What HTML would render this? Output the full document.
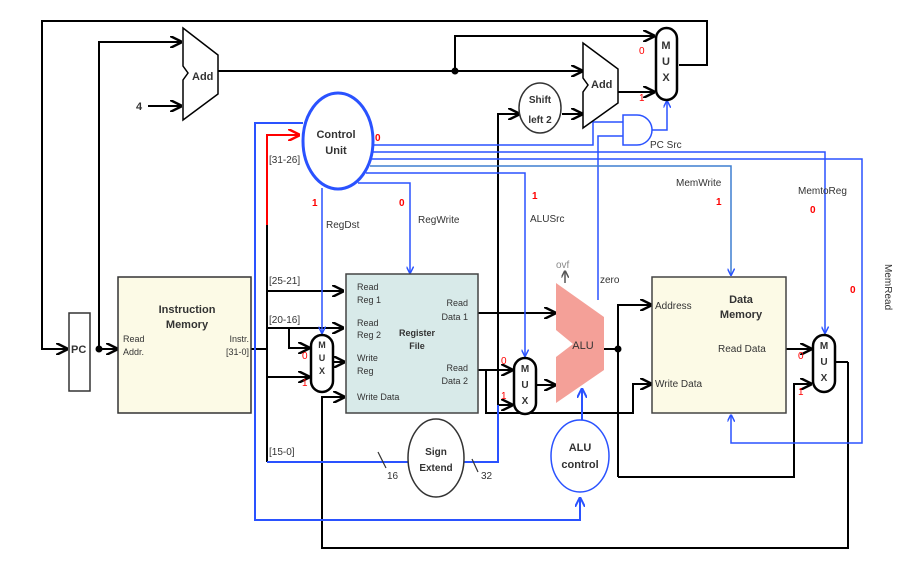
<!DOCTYPE html>
<html><head><meta charset="utf-8"><style>
html,body{margin:0;padding:0;background:#fff;}
svg{display:block;font-family:"Liberation Sans",sans-serif;}
.t{font-size:10px;fill:#333;}
.b{font-size:11px;font-weight:bold;fill:#333;}
.r{font-size:10px;fill:#f00;font-weight:bold;}
</style></head><body>
<svg width="921" height="586" viewBox="0 0 921 586" xmlns="http://www.w3.org/2000/svg">
<defs>
<marker id="ak" viewBox="0 0 10 10" refX="9" refY="5" markerWidth="6" markerHeight="6" orient="auto"><path d="M0,0 L10,5 L0,10" fill="none" stroke="#000" stroke-width="2"/></marker>
<marker id="ab" viewBox="0 0 10 10" refX="9" refY="5" markerWidth="5" markerHeight="5" orient="auto"><path d="M0,0 L10,5 L0,10" fill="none" stroke="#2a52ff" stroke-width="2"/></marker>
<marker id="ar" viewBox="0 0 10 10" refX="9" refY="5" markerWidth="6" markerHeight="6" orient="auto"><path d="M0,0 L10,5 L0,10" fill="none" stroke="#f00" stroke-width="2"/></marker>
<marker id="ag" viewBox="0 0 10 10" refX="9" refY="5" markerWidth="5" markerHeight="5" orient="auto"><path d="M0,0 L10,5 L0,10" fill="none" stroke="#555" stroke-width="2"/></marker>
</defs>
<g fill="none" stroke="#000" stroke-width="2">
<polyline points="679,65 707,65 707,21 42,21 42,349 67,349" marker-end="url(#ak)"/>
<polyline points="99,349 117,349" marker-end="url(#ak)"/>
<polyline points="99,349 99,42 181,42" marker-end="url(#ak)"/>
<polyline points="148,106 181,106" marker-end="url(#ak)"/>
<polyline points="218,71 582,71" marker-end="url(#ak)"/>
<polyline points="455,71 455,36 654,36" marker-end="url(#ak)"/>
<polyline points="618,92 654,92" marker-end="url(#ak)"/>
<polyline points="562,114 582,114" marker-end="url(#ak)"/>
<polyline points="498,405 498,114 519,114" marker-end="url(#ak)"/>
<polyline points="498,405 512,405" marker-end="url(#ak)"/>
<polyline points="251,349 267,349"/>
<polyline points="267,225 267,462"/>
<polyline points="267,291 343,291" marker-end="url(#ak)"/>
<polyline points="267,328 343,328" marker-end="url(#ak)"/>
<polyline points="289,328 289,348 309,348" marker-end="url(#ak)"/>
<polyline points="267,377 309,377" marker-end="url(#ak)"/>
<polyline points="333,362 344,362" marker-end="url(#ak)"/>
<polyline points="848,362 848,548 322,548 322,397 344,397" marker-end="url(#ak)"/>
<polyline points="478,313 555,313" marker-end="url(#ak)"/>
<polyline points="478,370 512,370" marker-end="url(#ak)"/>
<polyline points="486,370 486,413 633,413 633,384 651,384" marker-end="url(#ak)"/>
<polyline points="536,385 555,385" marker-end="url(#ak)"/>
<polyline points="604,349 618,349"/>
<polyline points="618,477 618,305 651,305" marker-end="url(#ak)"/>
<polyline points="618,477 794,477 794,384 811,384" marker-end="url(#ak)"/>
<polyline points="786,349 811,349" marker-end="url(#ak)"/>
<polyline points="835,362 848,362"/>
</g>
<circle cx="99" cy="349" r="3.5"/><circle cx="455" cy="71" r="3.5"/><circle cx="618" cy="349" r="3.5"/>
<g fill="none" stroke="#2a52ff" stroke-width="2">
<polyline points="303,123 255,123 255,520 580,520 580,498" marker-end="url(#ab)"/>
<polyline points="267,462 408,462"/>
<polyline points="464,462 498,462 498,405"/>
<polyline points="582,420 582,389" marker-end="url(#ab)"/>
</g>
<g fill="none" stroke="#2a52ff" stroke-width="1.5">
<polyline points="372,145 593,145 593,122 623,122"/>
<polyline points="598,300 598,136 623,136"/>
<polyline points="652,130 667,130 667,101" marker-end="url(#ab)"/>
<polyline points="373,152 825,152 825,333" marker-end="url(#ab)"/>
<polyline points="372,159 862,159 862,443 731,443 731,415" marker-end="url(#ab)"/>
<polyline points="370,166 731,166 731,275" stroke="#3f7fd0" marker-end="url(#ab)"/>
<polyline points="366,173 525,173 525,356" marker-end="url(#ab)"/>
<polyline points="358,183 410,183 410,273" marker-end="url(#ab)"/>
<polyline points="322,188 322,333" marker-end="url(#ab)"/>
</g>
<polyline points="267,225 267,135 299,135" fill="none" stroke="#f00" stroke-width="2" marker-end="url(#ar)"/>
<rect x="69" y="313" width="21" height="78" fill="#fff" stroke="#333" stroke-width="1.5"/>
<text x="71" y="353" class="b">PC</text>
<polygon points="183,28 218,55 218,94 183,120 183,80 188,73 183,66" fill="#fff" stroke="#000" stroke-width="1.5"/>
<text x="192" y="80" class="b">Add</text>
<text x="136" y="110" class="b">4</text>
<polygon points="583,43 618,69 618,103 583,128 583,92 588,85 583,78" fill="#fff" stroke="#000" stroke-width="1.5"/>
<text x="591" y="88" class="b">Add</text>
<rect x="656" y="28" width="21" height="72" rx="10.5" fill="#fff" stroke="#000" stroke-width="2.5"/>
<text x="666" y="49" class="b" text-anchor="middle">M</text><text x="666" y="65" class="b" text-anchor="middle">U</text><text x="666" y="81" class="b" text-anchor="middle">X</text>
<text x="639" y="54" class="r" style="font-weight:normal">0</text><text x="639" y="101" class="r" style="font-weight:normal">1</text>
<ellipse cx="540" cy="108" rx="21" ry="25" fill="#fff" stroke="#333" stroke-width="1.5"/>
<text x="540" y="103" class="b" text-anchor="middle" style="font-size:10px">Shift</text><text x="540" y="123" class="b" text-anchor="middle" style="font-size:10px">left 2</text>
<path d="M623,115 L637,115 A15,15 0 0 1 637,145 L623,145 Z" fill="#fff" stroke="#2a52ff" stroke-width="1.5"/>
<text x="650" y="148" class="t">PC Src</text>
<ellipse cx="338" cy="141" rx="35" ry="48" fill="#fff" stroke="#2a52ff" stroke-width="3"/>
<text x="336" y="138" class="b" text-anchor="middle">Control</text><text x="336" y="154" class="b" text-anchor="middle">Unit</text>
<text x="269" y="163" class="t">[31-26]</text>
<text x="375" y="141" class="r">0</text>
<text x="312" y="206" class="r">1</text><text x="326" y="228" class="t">RegDst</text>
<text x="399" y="206" class="r">0</text><text x="418" y="223" class="t">RegWrite</text>
<text x="532" y="199" class="r">1</text><text x="530" y="222" class="t">ALUSrc</text>
<text x="676" y="186" class="t">MemWrite</text><text x="716" y="205" class="r">1</text>
<text x="798" y="194" class="t">MemtoReg</text><text x="810" y="213" class="r">0</text>
<text x="850" y="293" class="r">0</text>
<text transform="translate(885,264) rotate(90)" class="t">MemRead</text>
<rect x="118" y="277" width="133" height="136" fill="#fcfae6" stroke="#333" stroke-width="1.5"/>
<text x="187" y="313" class="b" text-anchor="middle">Instruction</text><text x="187" y="328" class="b" text-anchor="middle">Memory</text>
<text x="123" y="342" class="t" style="font-size:9px">Read</text><text x="123" y="355" class="t" style="font-size:9px">Addr.</text>
<text x="249" y="342" class="t" text-anchor="end" style="font-size:9px">Instr.</text><text x="249" y="355" class="t" text-anchor="end" style="font-size:9px">[31-0]</text>
<text x="269" y="284" class="t">[25-21]</text><text x="269" y="323" class="t">[20-16]</text><text x="269" y="455" class="t">[15-0]</text>
<line x1="378" y1="452" x2="386" y2="468" stroke="#333" stroke-width="1.2"/>
<text x="387" y="479" class="t">16</text>
<rect x="311" y="335" width="22" height="57" rx="11" fill="#fff" stroke="#000" stroke-width="2.5"/>
<text x="322" y="348" class="b" text-anchor="middle" style="font-size:9px">M</text><text x="322" y="361" class="b" text-anchor="middle" style="font-size:9px">U</text><text x="322" y="374" class="b" text-anchor="middle" style="font-size:9px">X</text>
<text x="302" y="359" class="r" style="font-weight:normal">0</text><text x="302" y="386" class="r" style="font-weight:normal">1</text>
<rect x="346" y="274" width="132" height="139" fill="#d8eae9" stroke="#444" stroke-width="1.5"/>
<text x="357" y="290" class="t" style="font-size:9px">Read</text><text x="357" y="303" class="t" style="font-size:9px">Reg 1</text>
<text x="357" y="326" class="t" style="font-size:9px">Read</text><text x="357" y="338" class="t" style="font-size:9px">Reg 2</text>
<text x="357" y="361" class="t" style="font-size:9px">Write</text><text x="357" y="374" class="t" style="font-size:9px">Reg</text>
<text x="357" y="400" class="t" style="font-size:9px">Write Data</text>
<text x="468" y="306" class="t" text-anchor="end" style="font-size:9px">Read</text><text x="468" y="320" class="t" text-anchor="end" style="font-size:9px">Data 1</text>
<text x="468" y="371" class="t" text-anchor="end" style="font-size:9px">Read</text><text x="468" y="384" class="t" text-anchor="end" style="font-size:9px">Data 2</text>
<text x="417" y="336" class="b" text-anchor="middle" style="font-size:9px">Register</text><text x="417" y="349" class="b" text-anchor="middle" style="font-size:9px">File</text>
<ellipse cx="436" cy="458" rx="28" ry="39" fill="#fff" stroke="#333" stroke-width="1.5"/>
<text x="436" y="455" class="b" text-anchor="middle" style="font-size:10px">Sign</text><text x="436" y="471" class="b" text-anchor="middle" style="font-size:10px">Extend</text>
<line x1="472" y1="459" x2="478" y2="472" stroke="#333" stroke-width="1.2"/>
<text x="481" y="479" class="t">32</text>
<rect x="514" y="358" width="22" height="56" rx="11" fill="#fff" stroke="#000" stroke-width="2.5"/>
<text x="525" y="372" class="b" text-anchor="middle" style="font-size:10px">M</text><text x="525" y="388" class="b" text-anchor="middle" style="font-size:10px">U</text><text x="525" y="404" class="b" text-anchor="middle" style="font-size:10px">X</text>
<text x="501" y="364" class="r" style="font-weight:normal">0</text><text x="501" y="399" class="r" style="font-weight:normal">1</text>
<polygon points="556,283 604,317 604,370 556,403 556,357 573,344 556,330" fill="#f4a098"/>
<text x="583" y="349" class="t" text-anchor="middle" style="font-size:11px">ALU</text>
<polyline points="565,283 565,271" fill="none" stroke="#555" stroke-width="1.5" marker-end="url(#ag)"/>
<text x="556" y="268" class="t" style="fill:#888">ovf</text>
<text x="600" y="283" class="t">zero</text>
<ellipse cx="580" cy="456" rx="29" ry="36" fill="#fff" stroke="#2a52ff" stroke-width="1.5"/>
<text x="580" y="451" class="b" text-anchor="middle">ALU</text><text x="580" y="468" class="b" text-anchor="middle">control</text>
<rect x="652" y="277" width="134" height="136" fill="#fcfae6" stroke="#444" stroke-width="1.5"/>
<text x="655" y="309" class="t">Address</text><text x="655" y="387" class="t">Write Data</text>
<text x="741" y="303" class="b" text-anchor="middle">Data</text><text x="741" y="318" class="b" text-anchor="middle">Memory</text>
<text x="718" y="352" class="t">Read Data</text>
<rect x="813" y="335" width="22" height="57" rx="11" fill="#fff" stroke="#000" stroke-width="2.5"/>
<text x="824" y="349" class="b" text-anchor="middle" style="font-size:10px">M</text><text x="824" y="365" class="b" text-anchor="middle" style="font-size:10px">U</text><text x="824" y="381" class="b" text-anchor="middle" style="font-size:10px">X</text>
<text x="798" y="359" class="r" style="font-weight:normal">0</text><text x="798" y="395" class="r" style="font-weight:normal">1</text>
</svg>
</body></html>
